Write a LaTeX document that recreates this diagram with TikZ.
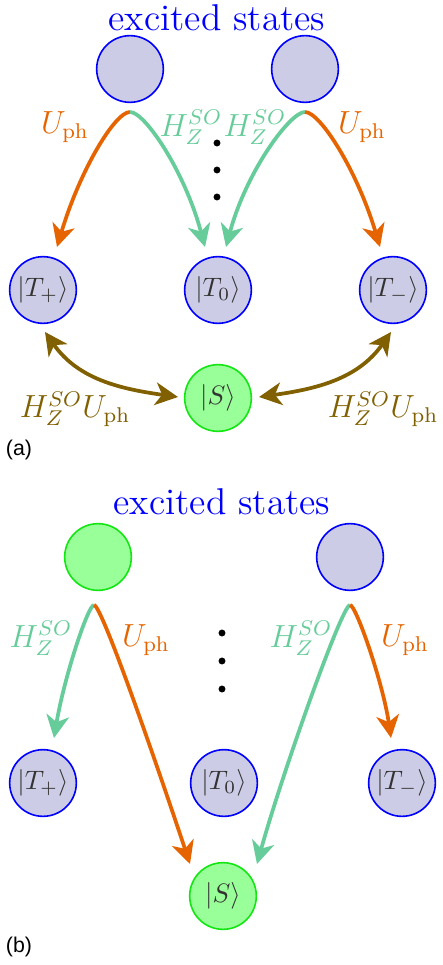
\documentclass[tikz,border=0pt]{standalone}
\usepackage{fontspec}
\newfontfamily\panelfont{Liberation Sans}
\usetikzlibrary{arrows.meta}
\definecolor{lavender}{RGB}{204,204,230}
\definecolor{lightgrn}{RGB}{153,255,153}
\definecolor{brightgrn}{RGB}{20,230,20}
\definecolor{phon}{RGB}{230,100,0}
\definecolor{soc}{RGB}{102,204,153}
\definecolor{mixed}{RGB}{128,96,0}
\begin{document}
\begin{tikzpicture}[x=0.375pt,y=0.375pt,
  trip/.style={circle,draw=blue,fill=lavender,line width=0.6pt,minimum size=25pt,inner sep=0pt,text=black!80},
  sing/.style={trip,draw=brightgrn,fill=lightgrn},
  tip/.style={line width=1.4pt,-{Stealth[length=8.5pt,width=8.5pt,inset=2.5pt]}},
  tipboth/.style={line width=1.4pt,{Stealth[length=8.5pt,width=8.5pt,inset=2.5pt]}-{Stealth[length=8.5pt,width=8.5pt,inset=2.5pt]}},
  lbl/.style={font=\large,inner sep=1pt},
  title/.style={text=blue,font=\fontsize{14}{16}\selectfont},
  dot/.style={circle,fill=black,inner sep=0pt,minimum size=2.6pt},
  panel/.style={font=\panelfont\fontsize{8}{9}\selectfont}]
\useasboundingbox (0,0) rectangle (442,-965);

% (a)
\node[title] (ta) at (217,-18) {excited states};
\node[trip] (ea1) at (130,-69) {};
\node[trip] (ea2) at (305,-69) {};
\node[trip] (tpa) at (43,-290) {$|T_+\rangle$};
\node[trip] (tza) at (218,-290) {$|T_0\rangle$};
\node[trip] (tma) at (393,-290) {$|T_-\rangle$};
\node[sing] (sa) at (218,-398) {$|S\rangle$};
\coordinate (ca1) at (130,-112);
\coordinate (ca2) at (305,-112);
\coordinate (ea1u) at (57,-247);
\coordinate (ea1s) at (205,-247);
\coordinate (ea2s) at (226,-247);
\coordinate (ea2u) at (380,-247);
\draw[tip,phon] (ca1) .. controls +(-15,0) and +(23,77) .. (ea1u);
\draw[tip,soc] (ca1) .. controls +(15,0) and +(-20,75) .. (ea1s);
\draw[tip,soc] (ca2) .. controls +(-15,0) and +(20,75) .. (ea2s);
\draw[tip,phon] (ca2) .. controls +(15,0) and +(-23,77) .. (ea2u);
\node[lbl,text=phon] (ua1) at (65,-127) {$U_{\rm ph}$};
\node[lbl,text=soc] (ha1) at (191,-127) {$H_Z^{SO}$};
\node[lbl,text=soc] (ha2) at (255,-127) {$H_Z^{SO}$};
\node[lbl,text=phon] (ua2) at (362,-127) {$U_{\rm ph}$};
\node[dot] (da1) at (217,-143) {};
\node[dot] (da2) at (217,-170) {};
\node[dot] (da3) at (217,-197) {};
\coordinate (ma1) at (45,-332);
\coordinate (ma2) at (178,-397);
\coordinate (ma3) at (259,-397);
\coordinate (ma4) at (391,-332);
\draw[tipboth,mixed] (ma1) to[out=-55,in=172] (ma2);
\draw[tipboth,mixed] (ma3) to[out=8,in=-125] (ma4);
\node[lbl,text=mixed] (ma) at (75,-409) {$H_Z^{SO}U_{\rm ph}$};
\node[lbl,text=mixed] (mb) at (383,-409) {$H_Z^{SO}U_{\rm ph}$};
\node[panel] (pa) at (19,-450) {(a)};

% (b)
\node[title] (tb) at (222,-502) {excited states};
\node[sing] (eb1) at (98,-557) {};
\node[trip] (eb2) at (350,-557) {};
\node[trip] (tpb) at (43,-783) {$|T_+\rangle$};
\node[trip] (tzb) at (224,-783) {$|T_0\rangle$};
\node[trip] (tmb) at (402,-783) {$|T_-\rangle$};
\node[sing] (sb) at (223,-896) {$|S\rangle$};
\coordinate (cb1) at (94,-605);
\coordinate (cb2) at (350,-605);
\coordinate (eb1s) at (54,-738);
\coordinate (eb1u) at (190,-864);
\coordinate (eb2s) at (257,-864);
\coordinate (eb2u) at (391,-738);
\draw[tip,soc] (cb1) .. controls +(-6,0) and +(10,60) .. (eb1s);
\draw[tip,phon] (cb1) .. controls +(8,0) and +(-30,90) .. (eb1u);
\draw[tip,soc] (cb2) .. controls +(-8,0) and +(25,90) .. (eb2s);
\draw[tip,phon] (cb2) .. controls +(6,0) and +(-8,55) .. (eb2u);
\node[lbl,text=soc] (hb1) at (41,-638) {$H_Z^{SO}$};
\node[lbl,text=phon] (ub1) at (146,-640) {$U_{\rm ph}$};
\node[lbl,text=soc] (hb2) at (301,-638) {$H_Z^{SO}$};
\node[lbl,text=phon] (ub2) at (405,-640) {$U_{\rm ph}$};
\node[dot] (db1) at (222,-633) {};
\node[dot] (db2) at (222,-661) {};
\node[dot] (db3) at (222,-689) {};
\node[panel] (pb) at (19,-947) {(b)};
\end{tikzpicture}
\end{document}
